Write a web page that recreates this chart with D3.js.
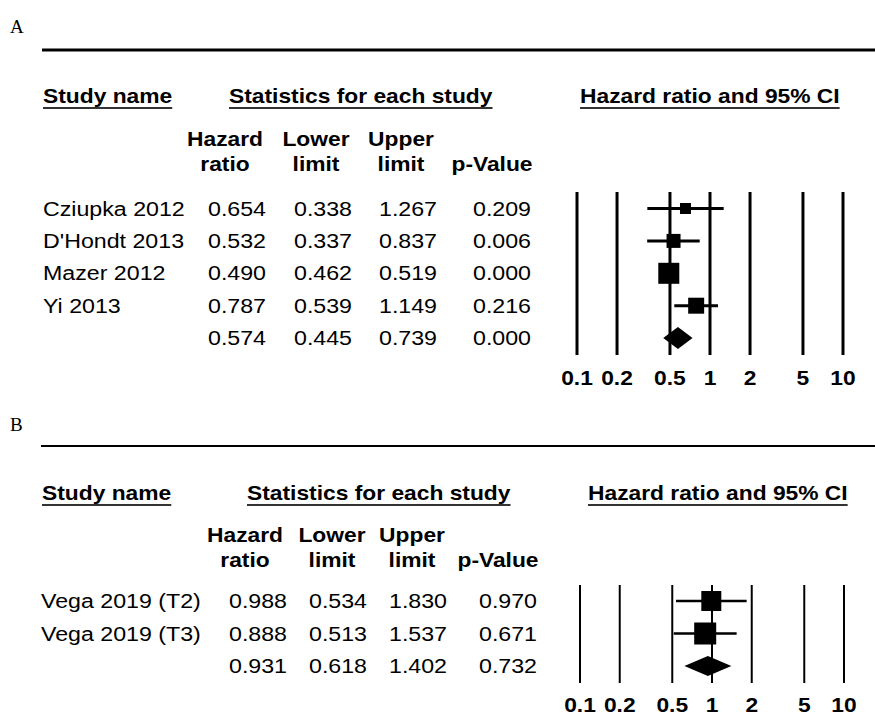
<!DOCTYPE html>
<html><head><meta charset="utf-8">
<script src="https://cdn.jsdelivr.net/npm/d3@7"></script>
<style>body{margin:0;background:#fff}svg{display:block}</style>
</head><body>
<svg id="chart" width="875" height="722"></svg>
<script>
// ---------- DATA ----------
const studiesA = ["Cziupka 2012", "D'Hondt 2013", "Mazer 2012", "Yi 2013"];
const hrA      = [0.654, 0.532, 0.490, 0.787];
const lowerA   = [0.338, 0.337, 0.462, 0.539];
const upperA   = [1.267, 0.837, 0.519, 1.149];
const pA       = [0.209, 0.006, 0.000, 0.216];
const weightsA = [11.9, 19.3, 43.5, 25.2];
const summaryA = [0.574, 0.445, 0.739, 0.000];

const studiesB = ["Vega 2019 (T2)", "Vega 2019 (T3)"];
const hrB      = [0.988, 0.888];
const lowerB   = [0.534, 0.513];
const upperB   = [1.830, 1.537];
const pB       = [0.970, 0.671];
const weightsB = [45.2, 54.8];
const summaryB = [0.931, 0.618, 1.402, 0.732];

const axisTicks = [0.1, 0.2, 0.5, 1, 2, 5, 10];
const headerTop = ["Hazard", "Lower", "Upper", ""];
const headerBot = ["ratio", "limit", "limit", "p-Value"];

// ---------- LAYOUT ----------
const SX_B = 1.14;         // horizontal stretch of the original rendering (bold)
const SX_R = 1.16;         // (regular)
const FS = 20;
const fmt = d3.format(".3f");
const svg = d3.select("#chart");

function txt(g, x, y, s, opt = {}) {
  const sx = opt.sx || (opt.bold ? SX_B : SX_R);
  return g.append("text")
    .attr("transform", `translate(${x},${y}) scale(${sx},1)`)
    .attr("text-anchor", opt.anchor || "start")
    .attr("font-family", opt.family || "'Liberation Sans', Arial, sans-serif")
    .attr("font-size", opt.size || FS)
    .attr("font-weight", opt.bold ? "bold" : "normal")
    .attr("fill", "#000")
    .text(s);
}

function panel(cfg) {
  const g = svg.append("g");
  txt(g, 10, cfg.letterY, cfg.letter, {family: "'Liberation Serif', 'Times New Roman', serif", size: 19, sx: 1});
  g.append("line").attr("x1", cfg.ruleX).attr("x2", 875).attr("y1", cfg.ruleY).attr("y2", cfg.ruleY)
    .attr("stroke", "#000").attr("stroke-width", cfg.ruleW);

  // section headers, underlined
  cfg.sections.forEach(([label, x]) => {
    const t = txt(g, x, cfg.headY, label, {bold: true});
    const w = t.node().getBBox().width * SX_B;
    g.append("line").attr("x1", x).attr("x2", x + w)
      .attr("y1", cfg.headY + 5).attr("y2", cfg.headY + 5)
      .attr("stroke", "#333").attr("stroke-width", 2);
  });

  // column headers
  headerTop.forEach((h, i) => { if (h) txt(g, cfg.colHead[i], cfg.head1Y, h, {bold: true, anchor: "middle"}); });
  headerBot.forEach((h, i) => txt(g, cfg.colHead[i], cfg.head2Y, h, {bold: true, anchor: "middle"}));

  const n = cfg.studies.length;
  const yRow = d3.scaleLinear().domain([0, n]).range([cfg.row0, cfg.row0 + n * cfg.rowStep]);

  const rows = cfg.studies.map((s, i) => ({name: s, hr: cfg.hr[i], lo: cfg.lo[i], up: cfg.up[i], p: cfg.p[i], w: cfg.w[i]}));
  const sum = {name: "", hr: cfg.sum[0], lo: cfg.sum[1], up: cfg.sum[2], p: cfg.sum[3]};

  [...rows, sum].forEach((r, i) => {
    const y = yRow(i) + 7;
    if (r.name) txt(g, cfg.nameX, y, r.name);
    [r.hr, r.lo, r.up, r.p].forEach((v, j) => txt(g, cfg.colVal[j], y, fmt(v), {anchor: "end"}));
  });

  // forest plot
  const x = d3.scaleLog().domain([0.1, 10]).range(cfg.xRange);
  const axis = d3.axisBottom(x).tickValues(axisTicks).tickSize(0).tickFormat(d3.format("~g"));
  const ax = g.append("g").attr("transform", `translate(0,${cfg.lineBot})`).call(axis);
  ax.select(".domain").remove();
  ax.selectAll("text").remove();
  axisTicks.forEach(t => txt(g, x(t), cfg.tickY, d3.format("~g")(t), {bold: true, anchor: "middle"}));

  g.append("g").selectAll("line").data(axisTicks).join("line")
    .attr("x1", d => x(d)).attr("x2", d => x(d))
    .attr("y1", cfg.lineTop).attr("y2", cfg.lineBot)
    .attr("stroke", "#000").attr("stroke-width", cfg.gridW);

  const size = d3.scaleSqrt().domain([0, d3.max(cfg.w)]).range([0, cfg.maxBox]);
  const fg = g.append("g");
  fg.selectAll("line.ci").data(rows).join("line").attr("class", "ci")
    .attr("x1", d => x(d.lo)).attr("x2", d => x(d.up))
    .attr("y1", (d, i) => yRow(i)).attr("y2", (d, i) => yRow(i))
    .attr("stroke", "#000").attr("stroke-width", cfg.ciW);
  fg.selectAll("rect").data(rows).join("rect")
    .attr("x", d => x(d.hr) - size(d.w) / 2)
    .attr("y", (d, i) => yRow(i) - size(d.w) / 2)
    .attr("width", d => size(d.w)).attr("height", d => size(d.w))
    .attr("fill", "#000");
  const yd = yRow(n);
  fg.append("path")
    .attr("d", `M${x(sum.lo)},${yd} L${x(sum.hr)},${yd - cfg.diaH / 2} L${x(sum.up)},${yd} L${x(sum.hr)},${yd + cfg.diaH / 2} Z`)
    .attr("fill", "#000");
}

panel({
  letter: "A", letterY: 33, ruleX: 42, ruleY: 50, ruleW: 3,
  headY: 103,
  sections: [["Study name", 43], ["Statistics for each study", 229], ["Hazard ratio and 95% CI", 580]],
  head1Y: 146, head2Y: 171, colHead: [225, 316, 401, 492],
  colVal: [266, 352, 437, 531], nameX: 43,
  studies: studiesA, hr: hrA, lo: lowerA, up: upperA, p: pA, w: weightsA, sum: summaryA,
  row0: 208.5, rowStep: 32.4,
  xRange: [577, 843], lineTop: 192, lineBot: 355, tickY: 385, gridW: 3, ciW: 3, maxBox: 21, diaH: 22
});

panel({
  letter: "B", letterY: 431, ruleX: 41, ruleY: 446, ruleW: 2,
  headY: 500,
  sections: [["Study name", 42], ["Statistics for each study", 247], ["Hazard ratio and 95% CI", 588]],
  head1Y: 542, head2Y: 567, colHead: [245, 332, 412, 498],
  colVal: [287, 367, 447, 537], nameX: 41,
  studies: studiesB, hr: hrB, lo: lowerB, up: upperB, p: pB, w: weightsB, sum: summaryB,
  row0: 601, rowStep: 32.5,
  xRange: [580, 844], lineTop: 585, lineBot: 683, tickY: 712, gridW: 2, ciW: 2.5, maxBox: 22, diaH: 20
});
</script>
</body></html>
